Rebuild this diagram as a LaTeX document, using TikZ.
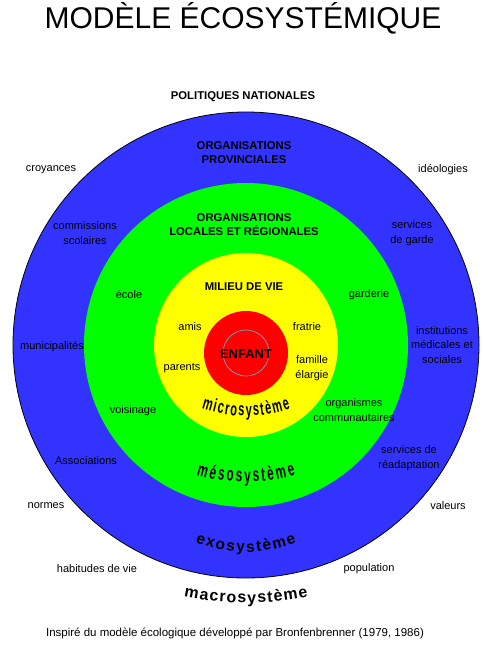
\documentclass[tikz,border=0pt]{standalone}
\usepackage{fontspec}
\setmainfont{Liberation Sans}
\newfontfamily\narrowfont[FakeStretch=0.6]{Liberation Sans}
\usetikzlibrary{calc,decorations.text}

\definecolor{exoblue}{RGB}{51,51,255}
\definecolor{mesogreen}{RGB}{0,255,0}
\definecolor{microyellow}{RGB}{255,255,0}
\definecolor{coregrey}{RGB}{128,150,170}

\newcommand{\microfmt}{\narrowfont\bfseries\fontsize{18.5}{18.5}\selectfont}
\newcommand{\mesofmt}{\narrowfont\bfseries\fontsize{19.5}{19.5}\selectfont}
\newcommand{\exofmt}{\bfseries\fontsize{15.5}{15.5}\selectfont}
\newcommand{\macrofmt}{\bfseries\fontsize{16}{16}\selectfont}

\begin{document}
\begin{tikzpicture}[x=1pt, y=-1pt,
    every node/.style = {align=center, inner sep=0pt, font=\fontsize{11}{14.5}\selectfont},
    heading/.style = {font=\bfseries\fontsize{11.3}{14}\selectfont},
    curved/.style = {decorate, decoration={text along path, text align=fit to path, text={#1}}}
  ]
  \useasboundingbox (0,0) rectangle (490,647);

  \coordinate (centre) at (246,345);
  \coordinate (core)   at (246,353);

  % rings
  \filldraw[fill=exoblue, draw=black, line width=0.8pt] (centre) circle[radius=233];
  \fill[mesogreen]   (centre) circle[radius=162];
  \fill[microyellow] (centre) circle[radius=92];
  \fill[red]         (core)   circle[radius=42];
  \draw[coregrey, line width=0.8pt] (core) circle[radius=23];

  \node (title) [anchor=base, font=\fontsize{30}{30}\selectfont] at (243,29) {MODÈLE ÉCOSYSTÉMIQUE};

  \node (politiques)   [heading] at (243,97)  {POLITIQUES NATIONALES};
  \node (provinciales) [heading] at (244,153) {ORGANISATIONS\\PROVINCIALES};
  \node (regionales)   [heading] at (244,225) {ORGANISATIONS\\LOCALES ET RÉGIONALES};
  \node (milieu)       [heading] at (244,287) {MILIEU DE VIE};
  \node (enfant)       [heading, font=\bfseries\fontsize{13}{14}\selectfont] at (246,354) {ENFANT};

  \node (croyances)     at (51,170)  {croyances};
  \node (ideologies)    at (443,170) {idéologies};
  \node (commissions)   at (85,233)  {commissions\\scolaires};
  \node (garde)         at (412,233) {services\\de garde};
  \node (ecole)         at (129,295) {école};
  \node (garderie)      at (369,295) {garderie};
  \node (municipalites) at (52,347)  {municipalités};
  \node (institutions)  at (442,345) {institutions\\médicales et\\sociales};
  \node (amis)          at (190,327) {amis};
  \node (fratrie)       at (307,327) {fratrie};
  \node (parents)       at (182,368) {parents};
  \node (famille)       at (312,368) {famille\\élargie};
  \node (voisinage)     at (133,411) {voisinage};
  \node (organismes)    at (354,410) {organismes\\communautaires};
  \node (associations)  at (86,461)  {Associations};
  \node (readaptation)  at (409,458) {services de\\réadaptation};
  \node (normes)        at (46,506)  {normes};
  \node (valeurs)       at (448,506) {valeurs};
  \node (habitudes)     at (97,569)  {habitudes de vie};
  \node (population)    at (369,569) {population};

  \node (source) [font=\fontsize{11.5}{13}\selectfont] at (235,633)
    {Inspiré du modèle écologique développé par Bronfenbrenner (1979, 1986)};

  % curved system names
  \coordinate (microarc) at (246,276);
  \coordinate (mesoarc)  at (246,302);
  \coordinate (exoarc)   at (246,417);
  \coordinate (macroarc) at (246,283);
  \path[curved={|\microfmt|microsystème}] ($(microarc)+(108.5:140)$) arc[start angle=108.5, end angle=71.5, radius=140];
  \path[curved={|\mesofmt|mésosystème}]   ($(mesoarc)+(106:180)$)  arc[start angle=106, end angle=74, radius=180];
  \path[curved={|\exofmt|exosystème}]     ($(exoarc)+(112:135)$)   arc[start angle=112, end angle=68, radius=135];
  \path[curved={|\macrofmt|macrosystème}] ($(macroarc)+(101.2:320)$) arc[start angle=101.2, end angle=78.8, radius=320];
\end{tikzpicture}
\end{document}
